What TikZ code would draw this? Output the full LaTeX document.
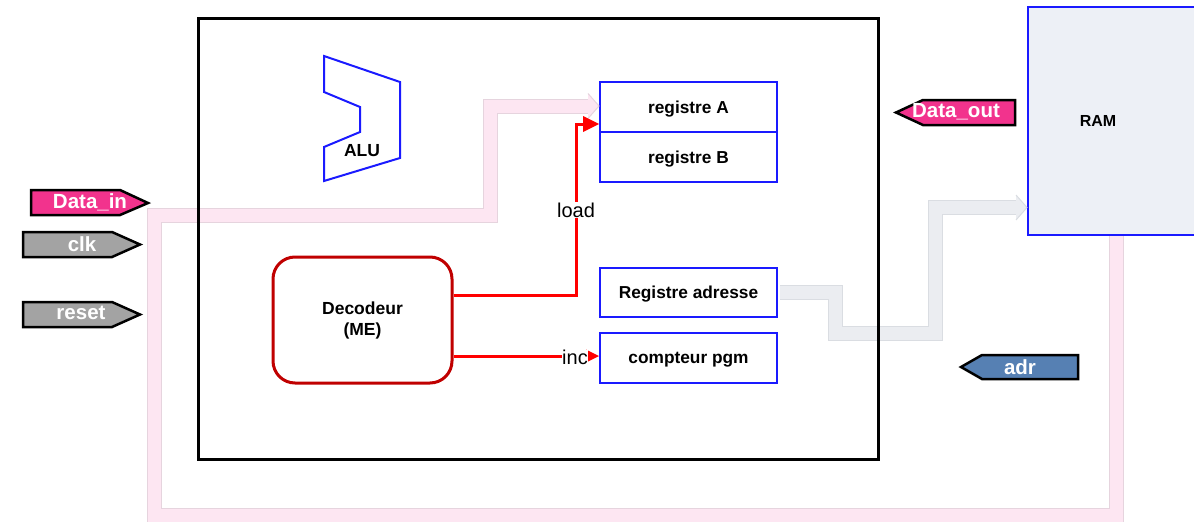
\documentclass[tikz,border=0pt]{standalone}
\usepackage{fontspec}
\setmainfont{Liberation Sans}
\usetikzlibrary{calc}
\definecolor{regblue}{HTML}{1A1AFF}
\definecolor{decred}{HTML}{C00000}
\definecolor{tagpink}{HTML}{F2338D}
\definecolor{taggray}{HTML}{A3A3A3}
\definecolor{tagblue}{HTML}{5680B3}
\definecolor{bandpink}{HTML}{FDE6F2}
\definecolor{bandpinkedge}{HTML}{E6D4DE}
\definecolor{bandgray}{HTML}{EBEDF1}
\definecolor{bandgrayedge}{HTML}{DADDE2}
\definecolor{ramfill}{HTML}{EDF0F6}
\tikzset{
  regbox/.style={draw=regblue, line width=2pt, minimum width=177pt, inner sep=0pt, text depth=0pt, font=\fontsize{17.3}{20}\selectfont\bfseries},
  tagtext/.style={text=white, font=\fontsize{20.5}{24}\selectfont\bfseries, inner sep=0pt},
  tagshape/.style={draw=black, line width=2.5pt, line join=miter},
  ctl/.style={draw=red, line width=3pt},
  ctlhead/.style={fill=red, draw=none},
  ctllabel/.style={fill=white, inner sep=1pt, font=\fontsize{20}{24}\selectfont},
}
\begin{document}
\begin{tikzpicture}[x=1pt, y=-1pt]
\clip (0,0) rectangle (1194,522);
\fill[white] (0,0) rectangle (1194,522);

% RAM
\node[draw=regblue, fill=ramfill, line width=2pt, minimum width=180pt, minimum height=228pt, inner sep=0pt] (ram) at (1118,121) {};
\node[font=\fontsize{16}{19}\selectfont\bfseries, inner sep=0pt] (ramlbl) at (1098,121) {RAM};

% registers
\node[regbox, minimum height=50pt] (ra) at (688.5,107) {registre A};
\node[regbox, minimum height=50pt] (rb) at (688.5,157) {registre B};
\node[regbox, minimum height=49pt] (radr) at (688.5,292.5) {Registre adresse};
\node[regbox, minimum height=50pt] (pc) at (688.5,358) {compteur pgm};

% decoder
\node[draw=decred, line width=3pt, rounded corners=22pt, minimum width=179pt, minimum height=126pt, inner sep=0pt, align=center, font=\fontsize{17.5}{22}\selectfont\bfseries] (dec) at (362.5,320) {\raisebox{-3pt}{Decodeur}\\\raisebox{-2pt}{(ME)}};

% tags
\coordinate (dintip) at (148,203);
\draw[tagshape, fill=tagpink] (31,190) -- (120,190) -- (dintip) -- (120,215) -- (31,215) -- cycle;
\node[tagtext] (din) at (90,202) {Data\_in};
\draw[tagshape, fill=taggray] (23,232) -- (112,232) -- (140,244.5) -- (112,257) -- (23,257) -- cycle;
\node[tagtext] (clk) at (82,244) {clk};
\draw[tagshape, fill=taggray] (23,302) -- (112,302) -- (140,314.5) -- (112,327) -- (23,327) -- cycle;
\node[tagtext] (rst) at (81,313) {reset};
\draw[tagshape, fill=tagpink] (896,112.5) -- (923,100) -- (1015,100) -- (1015,125) -- (923,125) -- cycle;
\node[tagtext] (dout) at (956,112) {Data\_out};
\draw[tagshape, fill=tagblue] (961,367) -- (982,355) -- (1078,355) -- (1078,379) -- (982,379) -- cycle;
\node[tagtext] (adr) at (1020,367) {adr};

% pink data band
\coordinate (p1) at (1116,236);
\coordinate (p2) at (1116,515);
\coordinate (p3) at (154,515);
\coordinate (p4) at (154,215);
\coordinate (p5) at (490,215);
\coordinate (p6) at (490,106);
\coordinate (p7) at (588,106);
\draw[bandpinkedge, line width=15pt, line join=miter] (p1) -- (p2) -- (p3) -- (p4) -- (p5) -- (p6) -- (p7);
\draw[bandpink, line width=13pt, line join=miter] (p1) -- (p2) -- (p3) -- (p4) -- (p5) -- (p6) -- ([xshift=1pt]p7);
\draw[bandpinkedge, fill=bandpink, line width=1pt, line join=miter] (588,93.5) -- (ra.west |- p7) -- (588,118.5);
\fill[bandpink] (587,99.5) rectangle (589,112.5);

% gray address band
\coordinate (g1) at (radr.east);
\coordinate (g2) at (835,292.5);
\coordinate (g3) at (835,333);
\coordinate (g4) at (935,333);
\coordinate (g5) at (935,207.5);
\coordinate (g6) at (1016,207.5);
\draw[bandgrayedge, line width=15pt, line join=miter] ([xshift=2pt]g1) -- (g2) -- (g3) -- (g4) -- (g5) -- (g6);
\draw[bandgray, line width=13pt, line join=miter] ([xshift=2pt]g1) -- (g2) -- (g3) -- (g4) -- (g5) -- ([xshift=1pt]g6);
\draw[bandgrayedge, fill=bandgray, line width=1pt, line join=miter] (1016,195) -- (ram.west |- g6) -- (1016,220);
\fill[bandgray] (1015,201) rectangle (1017,214);

% CPU frame
\node[draw=black, line width=3pt, minimum width=680pt, minimum height=441pt, inner sep=0pt] (cpu) at (538,238.5) {};

% ALU
\draw[regblue, line width=2pt, line join=miter] (324,56) -- (400,82) -- (400,158) -- (324,181) -- (324,147) -- (360,132) -- (360,107) -- (324,92) -- cycle;
\node[font=\fontsize{17.5}{20}\selectfont\bfseries, inner sep=0pt] (alu) at (362,151) {ALU};

% control lines
\coordinate (xl) at (576,0);
\coordinate (ld1) at ([yshift=25pt]dec.east);
\coordinate (ldtip) at ([yshift=-17pt]ra.west);
\coordinate (ld2) at (xl |- ld1);
\coordinate (ld3) at (xl |- ldtip);
\draw[ctl] (ld1) -- (ld2) -- (ld3) -- ([xshift=-14pt]ldtip);
\fill[ctlhead] ([xshift=-16pt,yshift=8pt]ldtip) -- (ldtip) -- ([xshift=-16pt,yshift=-8pt]ldtip) -- cycle;
\node[ctllabel] (load) at (576,210) {load};

\coordinate (in1) at ([yshift=-36pt]dec.east);
\coordinate (intip) at (pc.west |- in1);
\draw[ctl] (in1) -- ([xshift=-12pt]intip);
\fill[ctlhead] ([xshift=-13pt,yshift=6.5pt]intip) -- (intip) -- ([xshift=-13pt,yshift=-6.5pt]intip) -- cycle;
\node[ctllabel, inner sep=0pt] (inc) at (575,357) {inc};
\end{tikzpicture}
\end{document}
